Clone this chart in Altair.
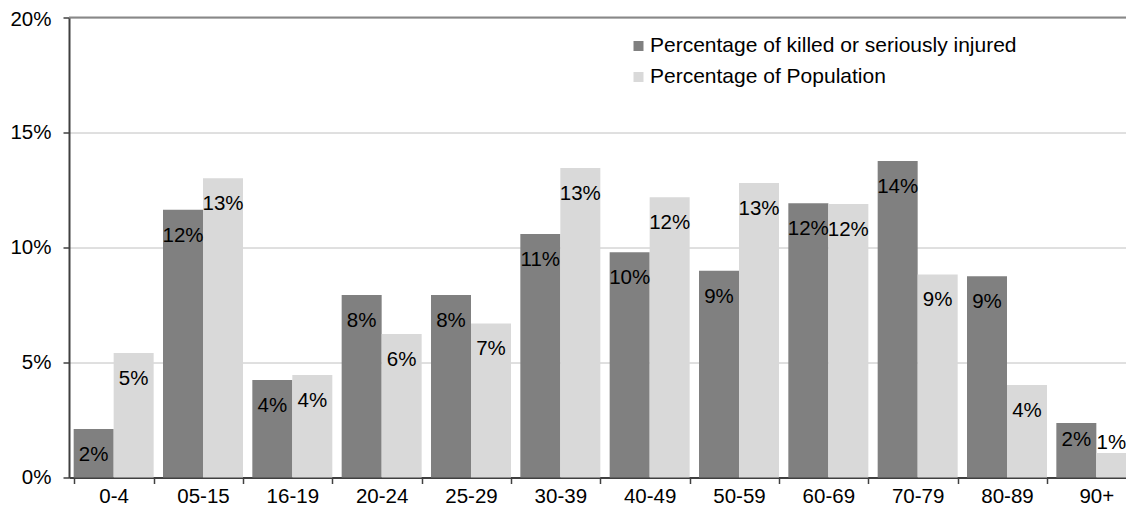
import altair as alt
import pandas as pd

ages = ["0-4", "05-15", "16-19", "20-24", "25-29", "30-39", "40-49",
        "50-59", "60-69", "70-79", "80-89", "90+"]
ksi = [2.11, 11.64, 4.24, 7.93, 7.93, 10.59, 9.79, 8.99, 11.92, 13.76, 8.75, 2.37]
pop = [5.41, 13.01, 4.46, 6.24, 6.70, 13.46, 12.18, 12.80, 11.89, 8.83, 4.02, 1.07]
series = ["Percentage of killed or seriously injured", "Percentage of Population"]
colors = ["#808080", "#d9d9d9"]
y_ticks = [0, 5, 10, 15, 20]

rows = []
for a, k, p in zip(ages, ksi, pop):
    rows.append({"age": a, "series": series[0], "value": k})
    rows.append({"age": a, "series": series[1], "value": p})
df = pd.DataFrame(rows)

FONT = "Liberation Sans"
FS = 20.5

x_enc = alt.X("age:N", sort=ages,
              scale=alt.Scale(range=[0, 1072], paddingInner=0.1045, paddingOuter=0.0522),
              axis=alt.Axis(title=None, labelAngle=0, tickBand="extent",
                            domainColor="#404040", domainWidth=2,
                            tickColor="#404040", tickWidth=1.5, tickSize=6,
                            labelFontSize=FS, labelColor="#000000", labelFont=FONT,
                            labelPadding=3, grid=False))
xo_enc = alt.XOffset("series:N", sort=series, scale=alt.Scale(paddingInner=0, paddingOuter=0))
y_enc = alt.Y("value:Q",
              scale=alt.Scale(domain=[0, 20], nice=False),
              axis=alt.Axis(title=None, values=y_ticks, labelExpr="datum.value + '%'",
                            domainColor="#404040", domainWidth=2,
                            tickColor="#404040", tickWidth=1.5, tickSize=6,
                            labelFontSize=FS, labelColor="#000000", labelFont=FONT,
                            labelOffset={"condition": {"test": "datum.value == 20", "value": 2},
                                         "value": 0},
                            labelPadding=12, grid=True, gridColor="#c0c0c0", gridWidth=1))

base = alt.Chart(df)

bars = base.mark_bar().encode(
    x=x_enc,
    xOffset=xo_enc,
    y=y_enc,
    color=alt.Color("series:N", sort=series,
                    scale=alt.Scale(domain=series, range=colors),
                    legend=alt.Legend(title=None, orient="none", legendX=559, legendY=18,
                                      symbolType="square", symbolSize=100,
                                      symbolStrokeWidth=0, labelFontSize=21,
                                      labelFont=FONT, labelColor="#000000",
                                      labelOffset=1, rowPadding=9, padding=0,
                                      labelLimit=600)),
)

def labels(filter_expr, dy, dx=0):
    return base.transform_filter(filter_expr).transform_calculate(
        label="format(round(datum.value), 'd') + '%'"
    ).mark_text(font=FONT, fontSize=20.5, color="#000000", baseline="middle",
                dy=dy, dx=dx).encode(
        x=alt.X("age:N", sort=ages),
        xOffset=alt.XOffset("series:N", sort=series),
        y=alt.Y("value:Q"),
        text="label:N",
    )

lab_main = labels("datum.age != '90+'", 26)
lab_k90 = labels("datum.age == '90+' && datum.series == '%s'" % series[0], 17)
lab_p90 = labels("datum.age == '90+' && datum.series == '%s'" % series[1], -10, -5)

top = alt.Chart(pd.DataFrame({"v": [20]})).mark_rule(color="#888888", strokeWidth=2).encode(
    y=alt.Y("v:Q")
)

chart = alt.layer(bars, lab_main, lab_k90, lab_p90, top).properties(
    width=1057, height=460,
    autosize=alt.AutoSizeParams(type="none"),
    padding={"left": 61, "top": 9.5, "right": 0, "bottom": 29.5},
    background="white",
).configure_view(stroke=None)

chart.save("out.html", embed_options={"renderer": "svg", "actions": False})
